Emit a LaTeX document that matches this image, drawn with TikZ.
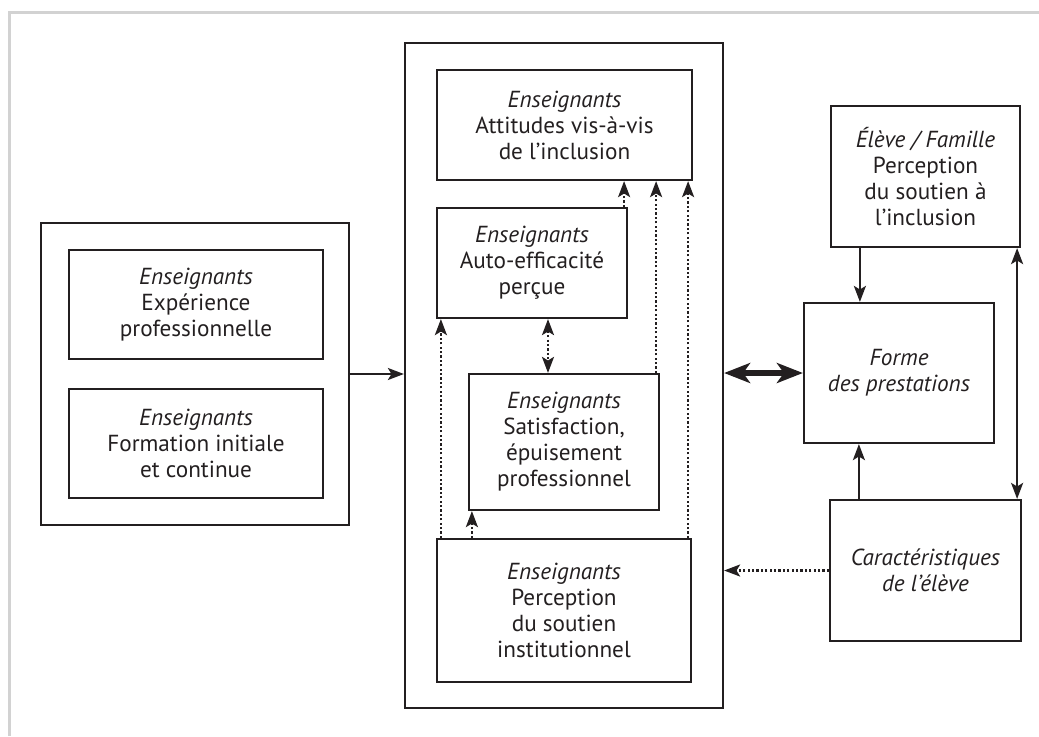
\documentclass[tikz,border=0pt]{standalone}
\usepackage{fontspec}
\setmainfont{PT Sans}
\usetikzlibrary{arrows.meta}
\definecolor{ink}{RGB}{35,31,32}
\begin{document}
\begin{tikzpicture}[x=0.5pt, y=-0.5pt, font=\fontsize{11.6}{13}\selectfont, color=ink,
    box/.style={draw, line width=1.1pt, inner sep=0pt, align=center},
    arr/.style={line width=1.1pt, -{Stealth[length=8pt, width=6pt, inset=1.8pt]}},
    both/.style={{Stealth[length=8pt, width=6pt, inset=1.8pt]}-{Stealth[length=8pt, width=6pt, inset=1.8pt]}},
    dots/.style={arr, line width=1.1pt, dash pattern=on 1.1pt off 1.1pt},
    big/.style={line width=2.6pt, {Stealth[length=13pt, width=10pt, inset=3.5pt]}-{Stealth[length=13pt, width=10pt, inset=3.5pt]}}]
        % page and grey frame
        \useasboundingbox (0,0) rectangle (1039,736);
        \draw[gray!35, line width=1.5pt] (9.5,736) |- (1039,12);

        % left group
        \node[box, minimum width=154pt, minimum height=151pt] (left) at (195,374) {};
        \node[box, minimum width=127pt, minimum height=54.5pt] (exp) at (196,304.5)
            {\textit{Enseignants}\\Expérience\\professionnelle};
        \node[box, minimum width=127pt, minimum height=54.5pt] (form) at (196,443.5)
            {\textit{Enseignants}\\Formation initiale\\et continue};

        % central group
        \node[box, minimum width=159pt, minimum height=332.5pt] (central) at (564,375.5) {};
        \node[box, minimum width=127.5pt, minimum height=55pt] (att) at (564.5,125)
            {\textit{Enseignants}\\Attitudes vis-à-vis\\de l’inclusion};
        \node[box, minimum width=95pt, minimum height=55pt] (auto) at (532,263)
            {\textit{Enseignants}\\Auto-efficacité\\perçue};
        \node[box, minimum width=95pt, minimum height=68pt] (sat) at (564,442)
            {\textit{Enseignants}\\Satisfaction,\\épuisement\\professionnel};
        \node[box, minimum width=127pt, minimum height=71.5pt] (perc) at (564,610.5)
            {\textit{Enseignants}\\Perception\\du soutien\\institutionnel};

        % right group
        \node[box, minimum width=94.5pt, minimum height=70.5pt] (eleve) at (925.5,176.5)
            {\textit{Élève / Famille}\\Perception\\du soutien à\\l’inclusion};
        \node[box, minimum width=95pt, minimum height=70pt] (forme) at (899,373)
            {\textit{Forme}\\\textit{des prestations}};
        \node[box, minimum width=95.5pt, minimum height=70.5pt] (carac) at (925.5,570.5)
            {\textit{Caractéristiques}\\\textit{de l’élève}};

        % solid links
        \draw[arr] (left.east) -- (left.east -| central.west);
        \draw[big] (forme.west -| central.east) -- (forme.west);
        \draw[arr] ([xshift=15pt]eleve.south west) -- ([xshift=15pt]eleve.south west |- forme.north);
        \draw[arr] ([xshift=15pt]carac.north west) -- ([xshift=15pt]carac.north west |- forme.south);
        \draw[arr, both] ([xshift=-2pt]eleve.south east) -- ([xshift=-2pt]eleve.south east |- carac.north);

        % dotted links
        \draw[dots] (carac.west) -- (carac.west -| central.east);
        \draw[dots] ([xshift=2.5pt]perc.north west) -- ([xshift=2.5pt]perc.north west |- auto.south);
        \draw[dots] ([xshift=2pt]sat.south west |- perc.north) -- ([xshift=2pt]sat.south west);
        \draw[dots] ([xshift=-2pt]perc.north east) -- ([xshift=-2pt]perc.north east |- att.south);
        \draw[dots] ([xshift=-2pt]sat.north east) -- ([xshift=-2pt]sat.north east |- att.south);
        \draw[dots] ([xshift=-2pt]auto.north east) -- ([xshift=-2pt]auto.north east |- att.south);
        \draw[dots, both] ([xshift=8pt]auto.south) -- ([xshift=8pt]auto.south |- sat.north);
\end{tikzpicture}
\end{document}
